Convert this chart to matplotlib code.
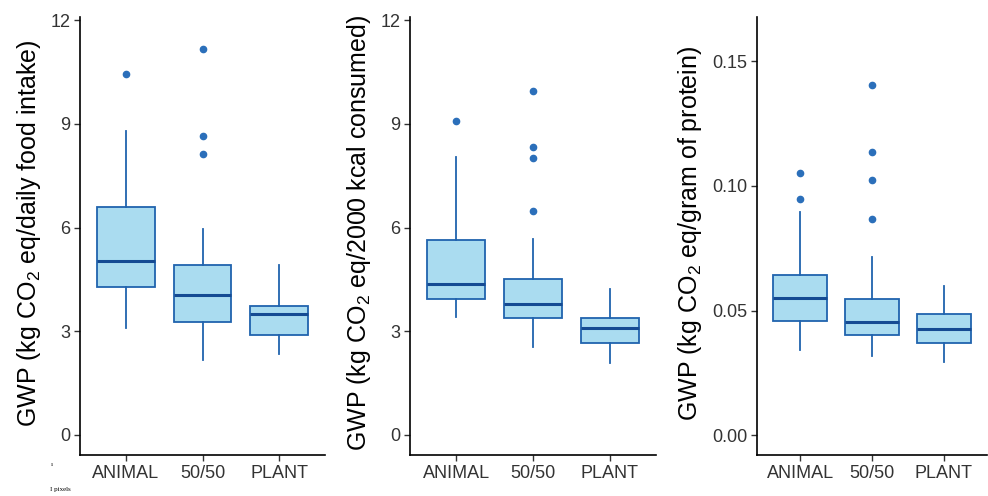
import matplotlib
matplotlib.use("Agg")
import matplotlib.pyplot as plt
from matplotlib.ticker import FormatStrFormatter

plt.rcParams['font.family'] = ['Liberation Sans', 'DejaVu Sans']
plt.rcParams['mathtext.fontset'] = 'custom'
plt.rcParams['mathtext.rm'] = 'Liberation Sans'
plt.rcParams['mathtext.default'] = 'regular'

categories = ["ANIMAL", "50/50", "PLANT"]

# Panel 1: kg CO2 eq / daily food intake
p1_q1 = [4.28, 3.27, 2.88]
p1_med = [5.03, 4.06, 3.49]
p1_q3 = [6.59, 4.92, 3.73]
p1_lo = [3.10, 2.18, 2.34]
p1_hi = [8.78, 5.96, 4.92]
p1_out = [[10.44], [11.17, 8.66, 8.12], []]

# Panel 2: kg CO2 eq / 2000 kcal consumed
p2_q1 = [3.92, 3.39, 2.65]
p2_med = [4.36, 3.80, 3.10]
p2_q3 = [5.63, 4.50, 3.39]
p2_lo = [3.42, 2.53, 2.08]
p2_hi = [8.04, 5.67, 4.21]
p2_out = [[9.07], [9.95, 8.33, 8.02, 6.48], []]

# Panel 3: kg CO2 eq / gram of protein
p3_q1 = [0.0460, 0.0403, 0.0371]
p3_med = [0.0550, 0.0454, 0.0426]
p3_q3 = [0.0644, 0.0546, 0.0487]
p3_lo = [0.0343, 0.0316, 0.0293]
p3_hi = [0.0897, 0.0713, 0.0597]
p3_out = [[0.1052, 0.0949], [0.1406, 0.1137, 0.1025, 0.0869], []]

ylabels = [r"GWP (kg CO$_2$ eq/daily food intake)",
           r"GWP (kg CO$_2$ eq/2000 kcal consumed)",
           r"GWP (kg CO$_2$ eq/gram of protein)"]

FILL = "#AADCF0"
EDGE = "#2063AE"
MED = "#154B93"
PT = "#2B6FBA"

W, H = 988, 496
fig = plt.figure(figsize=(W / 100, H / 100), dpi=100)

# axes rectangles in pixels: left, right, top, bottom
rects = [(80, 325, 17, 455), (410, 656, 17, 455), (757, 987, 17, 455)]
ylims = [(-0.58, 12.09), (-0.58, 12.09), (-0.0079, 0.1677)]
yticks = [[0, 3, 6, 9, 12], [0, 3, 6, 9, 12], [0.0, 0.05, 0.10, 0.15]]
label_x = [29, 359, 690]

panels = [
    (p1_q1, p1_med, p1_q3, p1_lo, p1_hi, p1_out),
    (p2_q1, p2_med, p2_q3, p2_lo, p2_hi, p2_out),
    (p3_q1, p3_med, p3_q3, p3_lo, p3_hi, p3_out),
]

for i, (q1, med, q3, lo, hi, out) in enumerate(panels):
    l, r, t, b = rects[i]
    ax = fig.add_axes([l / W, (H - b) / H, (r - l) / W, (b - t) / H])
    stats = []
    for k, c in enumerate(categories):
        stats.append(dict(label=c, q1=q1[k], med=med[k], q3=q3[k],
                          whislo=lo[k], whishi=hi[k], fliers=out[k]))
    ax.bxp(stats, positions=range(len(categories)), widths=0.75,
           patch_artist=True, showcaps=False,
           boxprops=dict(facecolor=FILL, edgecolor=EDGE, linewidth=1.3),
           whiskerprops=dict(color=EDGE, linewidth=1.3),
           medianprops=dict(color=MED, linewidth=2.2),
           flierprops=dict(marker='o', markerfacecolor=PT, markeredgecolor=PT,
                           markersize=4.5, linestyle='none'))
    ax.set_xlim(-0.6, 2.6)
    ax.set_ylim(*ylims[i])
    ax.set_yticks(yticks[i])
    if i == 2:
        ax.yaxis.set_major_formatter(FormatStrFormatter('%.2f'))
    ax.set_xticks(range(len(categories)))
    ax.set_xticklabels(categories)
    for s in ['top', 'right']:
        ax.spines[s].set_visible(False)
    for s in ['left', 'bottom']:
        ax.spines[s].set_linewidth(1.2)
        ax.spines[s].set_color('black')
    ax.tick_params(axis='both', length=4, width=1.0, color='#333333',
                   labelsize=13, labelcolor='#333333', pad=3)
    ax.set_facecolor('none')
    fig.text(label_x[i] / W, (H - 233) / H, ylabels[i], rotation=90,
             ha='center', va='center', fontsize=18, color='black')

fig.text(50 / W, (H - 490) / H, "I pixels", fontsize=5,
         family=['Liberation Serif'], ha='left', va='center')
fig.text(51 / W, (H - 465) / H, "ı", fontsize=5,
         family=['Liberation Serif'], ha='left', va='center')

fig.savefig("out.png", dpi=100)
